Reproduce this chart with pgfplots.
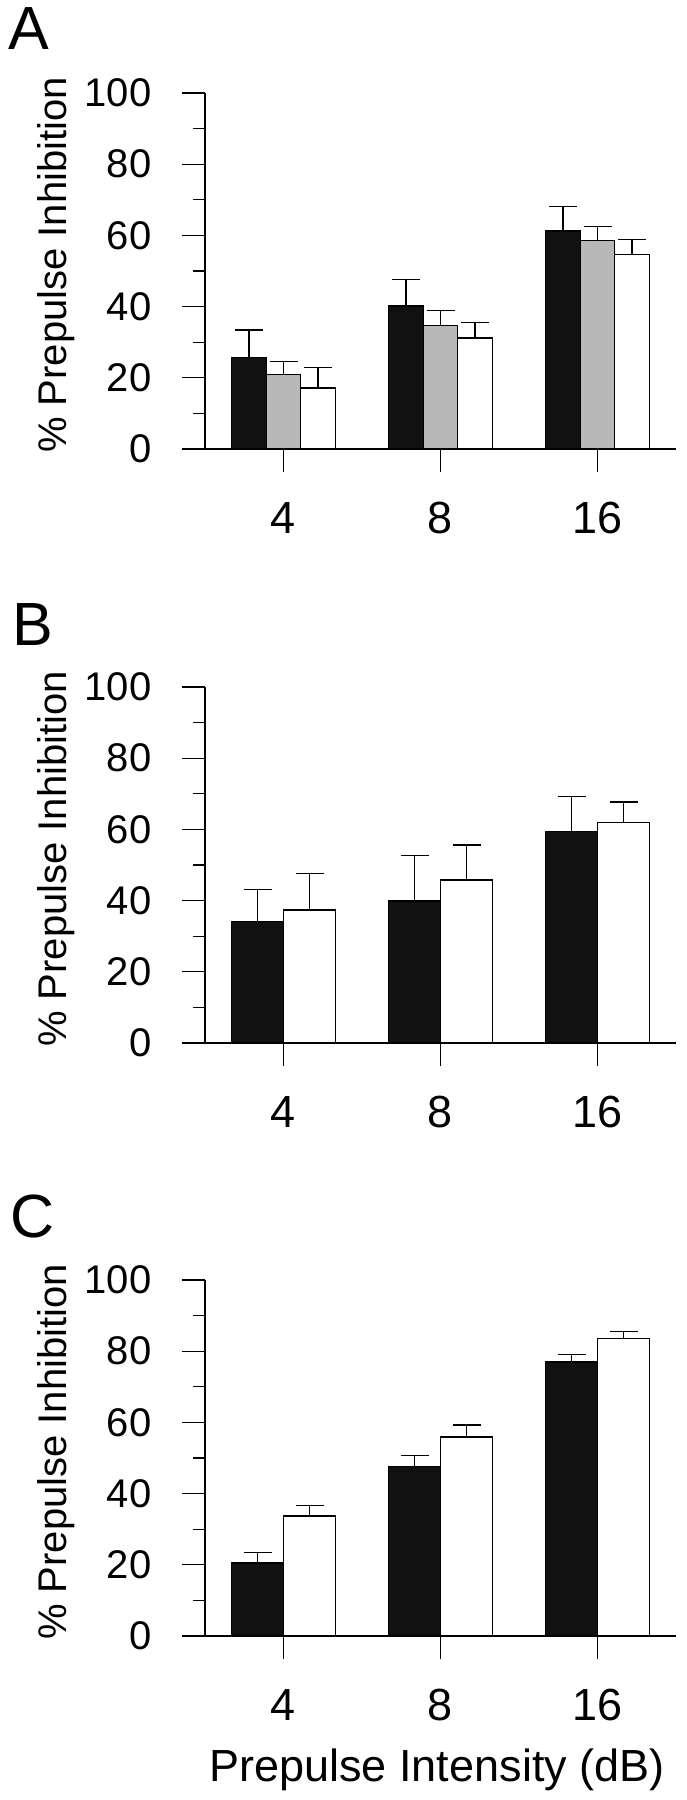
\documentclass[border=0pt]{standalone}
\usepackage{fontspec}
\setmainfont{Liberation Sans}
\usepackage{pgfplots}
\pgfplotsset{compat=1.18}
\definecolor{barblack}{HTML}{111111}
\definecolor{bargray}{HTML}{B8B8B8}

\pgfplotsset{
  panel/.style={
    scale only axis, width=471pt, height=356pt,
    xmin=-0.5, xmax=2.5, ymin=0, ymax=100,
    axis x line*=bottom, axis y line*=left,
    xtick={0,1,2}, xticklabels={4,8,16},
    ytick={0,20,...,100}, minor ytick={10,30,50,70,90},
    tick align=outside, major tick length=23pt, minor tick length=12pt,
    axis line style={line width=1.3pt, black},
    every tick/.style={black, line width=1.3pt},
    /pgf/number format/assume math mode=true,
    yticklabel style={font=\fontsize{40}{44}\selectfont, xshift=-27pt},
    xticklabel style={font=\fontsize{45}{50}\selectfont, yshift=-27pt},
    ylabel={\% Prepulse Inhibition},
    ylabel style={font=\fontsize{40}{44}\selectfont, at={(axis description cs:-0.316,0.517)}, anchor=center},
    ybar=0pt,
    error bars/y dir=plus, error bars/y explicit,
    error bars/error mark=|,
    error bars/error mark options={mark size=14pt, line width=1.3pt},
    error bars/error bar style={line width=1.3pt},
    every axis plot/.append style={line width=1.3pt},
  },
}
\tikzset{letter/.style={anchor=north west, inner sep=0pt, font=\fontsize{61}{66}\selectfont}}

\begin{document}
\begin{tikzpicture}
% panel A
\begin{axis}[panel, at={(205pt,-449pt)}, bar width=34.5pt]
\addplot[fill=barblack, draw=black] coordinates {(0,25.8) +- (0,7.6) (1,40.2) +- (0,7.4) (2,61.2) +- (0,6.9)};
\addplot[fill=bargray, draw=black] coordinates {(0,21.0) +- (0,3.6) (1,34.6) +- (0,4.4) (2,58.6) +- (0,4.0)};
\addplot[fill=white, draw=black] coordinates {(0,17.1) +- (0,5.7) (1,31.2) +- (0,4.4) (2,54.6) +- (0,4.3)};
\end{axis}
% panel B
\begin{axis}[panel, at={(205pt,-1043pt)}, bar width=52pt]
\addplot[fill=barblack, draw=black] coordinates {(0,34.2) +- (0,9.0) (1,39.9) +- (0,12.8) (2,59.4) +- (0,9.8)};
\addplot[fill=white, draw=black] coordinates {(0,37.4) +- (0,10.3) (1,45.8) +- (0,9.8) (2,62.0) +- (0,5.7)};
\end{axis}
% panel C
\begin{axis}[panel, at={(205pt,-1636pt)}, bar width=52pt,
  xlabel={Prepulse Intensity (dB)},
  xlabel style={font=\fontsize{45}{50}\selectfont, at={(axis description cs:0.4926,-0.375)}, anchor=center}]
\addplot[fill=barblack, draw=black] coordinates {(0,20.5) +- (0,3.0) (1,47.7) +- (0,3.1) (2,77.0) +- (0,2.1)};
\addplot[fill=white, draw=black] coordinates {(0,33.7) +- (0,3.0) (1,55.9) +- (0,3.4) (2,83.6) +- (0,1.9)};
\end{axis}
% panel letters
\node[letter] at (8pt,-7pt) {A};
\node[letter] at (12pt,-603pt) {B};
\node[letter] at (10pt,-1195pt) {C};
\pgfresetboundingbox
\path[use as bounding box] (0,0) rectangle (687pt,-1800pt);
\end{tikzpicture}
\end{document}
